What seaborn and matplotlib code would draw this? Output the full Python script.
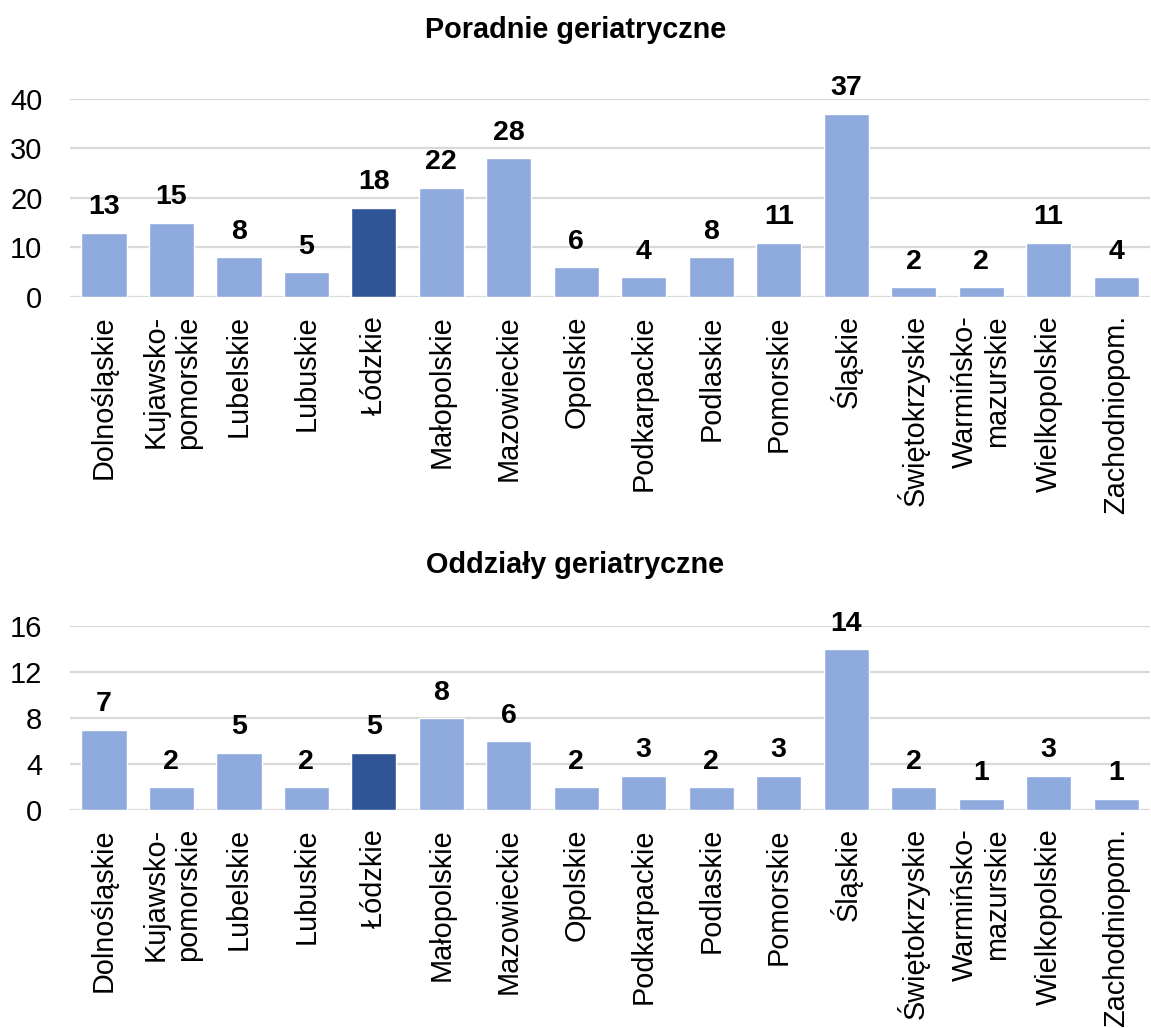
import matplotlib
matplotlib.use("Agg")
import matplotlib.pyplot as plt
import seaborn as sns

regions = ["Dolnośląskie", "Kujawsko-\npomorskie", "Lubelskie", "Lubuskie", "Łódzkie",
           "Małopolskie", "Mazowieckie", "Opolskie", "Podkarpackie", "Podlaskie",
           "Pomorskie", "Śląskie", "Świętokrzyskie", "Warmińsko-\nmazurskie",
           "Wielkopolskie", "Zachodniopom."]
poradnie = [13, 15, 8, 5, 18, 22, 28, 6, 4, 8, 11, 37, 2, 2, 11, 4]
oddzialy = [7, 2, 5, 2, 5, 8, 6, 2, 3, 2, 3, 14, 2, 1, 3, 1]
highlight = "Łódzkie"

sns.set_theme(style="white")
plt.rcParams['font.family'] = ['Liberation Sans', 'DejaVu Sans']
plt.rcParams['text.color'] = 'black'
plt.rcParams['xtick.color'] = 'black'
plt.rcParams['ytick.color'] = 'black'

light = "#8FAADC"
dark = "#2F5597"
palette = {r: (dark if r == highlight else light) for r in regions}

fig = plt.figure(figsize=(11.51, 10.28), dpi=100)
ax1 = fig.add_axes([0.061, 0.711, 0.938, 0.193])
ax2 = fig.add_axes([0.061, 0.212, 0.938, 0.179])


def draw(ax, values, ymax, step):
    sns.barplot(x=regions, y=values, hue=regions, palette=palette, legend=False,
                width=0.67, saturation=1, ax=ax)
    ax.set_ylim(0, ymax)
    ax.set_yticks(range(0, ymax + 1, step))
    ax.set_xlim(-0.5, len(regions) - 0.5)
    ax.yaxis.grid(True, color="#D9D9D9", linewidth=1.6)
    ax.set_axisbelow(True)
    for s in ax.spines.values():
        s.set_visible(False)
    ax.tick_params(axis="y", length=0, pad=20, labelsize=21)
    ax.tick_params(axis="x", length=0, pad=13, labelsize=20.8)
    for lbl in ax.get_xticklabels():
        lbl.set_rotation(90)
        lbl.set_multialignment("right")
    for c in ax.containers:
        ax.bar_label(c, padding=9, fontsize=20.5, fontweight="bold", clip_on=False)
    ax.set_xlabel("")
    ax.set_ylabel("")


draw(ax1, poradnie, 40, 10)
draw(ax2, oddzialy, 16, 4)

fig.text(0.5, 0.971, "Poradnie geriatryczne", ha="center", va="center",
         fontsize=20.8, fontweight="bold")
fig.text(0.5, 0.45, "Oddziały geriatryczne", ha="center", va="center",
         fontsize=20.8, fontweight="bold")

fig.savefig("out.png", dpi=100)
